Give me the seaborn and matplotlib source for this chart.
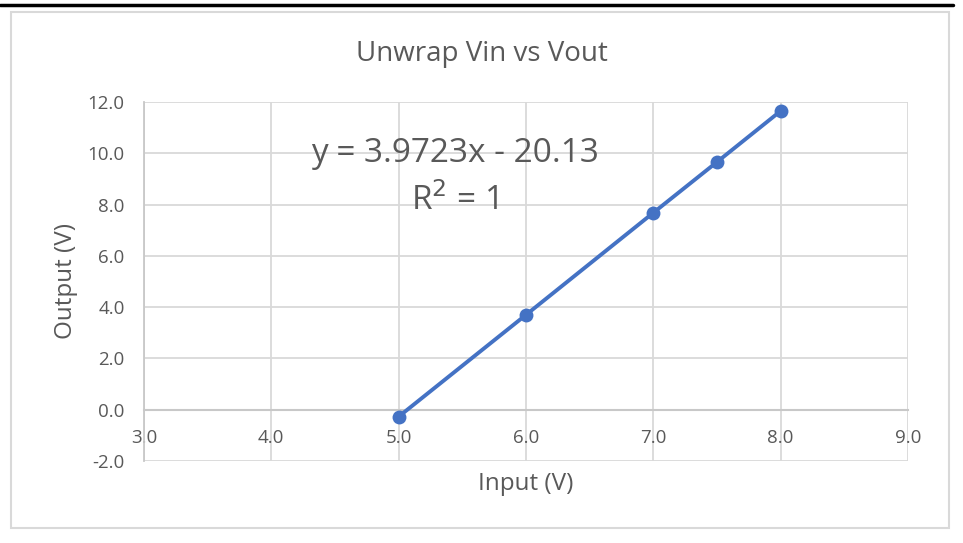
import matplotlib
matplotlib.use("Agg")
import matplotlib.pyplot as plt
from matplotlib.patches import Rectangle
from matplotlib.lines import Line2D
import seaborn as sns
import pandas as pd

# data
vin = [5.0, 6.0, 7.0, 7.5, 8.0]
vout = [-0.27, 3.70, 7.68, 9.66, 11.65]
x_ticks = [3, 4, 5, 6, 7, 8, 9]
y_ticks = [-2, 0, 2, 4, 6, 8, 10, 12]
title = "Unwrap Vin vs Vout"
equation = "y = 3.9723x - 20.13"
r2_text = "R$^2$ = 1"

sns.set_style("white")
plt.rcParams['font.family'] = ['Open Sans', 'DejaVu Sans']

text_gray = '#595959'
grid_gray = '#d9d9d9'
blue = '#4472C4'

df = pd.DataFrame({'Input (V)': vin, 'Output (V)': vout})

fig = plt.figure(figsize=(9.63, 5.43), dpi=100)
ax = fig.add_axes([0.1495, 0.151, 0.7934, 0.6612])

sns.lineplot(data=df, x='Input (V)', y='Output (V)', ax=ax, color=blue,
             linewidth=2.8, marker='o', markersize=10, markeredgewidth=0,
             zorder=5)

ax.set_xlim(3, 9)
ax.set_ylim(-2, 12)
ax.set_xticks(x_ticks)
ax.set_yticks(y_ticks)
ax.set_xticklabels([f"{v:.1f}" for v in x_ticks])
ax.set_yticklabels([f"{v:.1f}" for v in y_ticks])
ax.grid(True, color=grid_gray, linewidth=1.3)
ax.set_axisbelow(True)

for side in ['top', 'right']:
    ax.spines[side].set_visible(False)
ax.spines['left'].set_color('#c8c8c8')
ax.spines['left'].set_linewidth(1.3)
ax.spines['bottom'].set_position(('data', 0))
ax.spines['bottom'].set_color('#c8c8c8')
ax.spines['bottom'].set_linewidth(1.5)

ax.tick_params(axis='both', length=0, labelsize=13.5, colors=text_gray)
ax.tick_params(axis='x', pad=14)
ax.tick_params(axis='y', pad=14)

ax.set_xlabel('Input (V)', fontsize=17.5, color=text_gray, labelpad=18)
ax.set_ylabel('Output (V)', fontsize=17.5, color=text_gray, labelpad=7)

ax.text(5.44, 9.98, equation, fontsize=24, color=text_gray,
        ha='center', va='center')
ax.text(5.44, 8.15, r2_text, fontsize=24, color=text_gray,
        ha='center', va='center')

fig.text(0.5, 0.9, title, fontsize=20, color=text_gray,
         ha='center', va='center')

# chart area border and the rule at the top
fig.patches.append(Rectangle((0.011, 0.027), 0.974, 0.95, transform=fig.transFigure,
                             fill=False, edgecolor='#d9d9d9', linewidth=1.5))
fig.lines.append(Line2D([0, 0.99], [0.99, 0.99], transform=fig.transFigure,
                        color='black', linewidth=2.5))

fig.savefig('out.png', dpi=100)
